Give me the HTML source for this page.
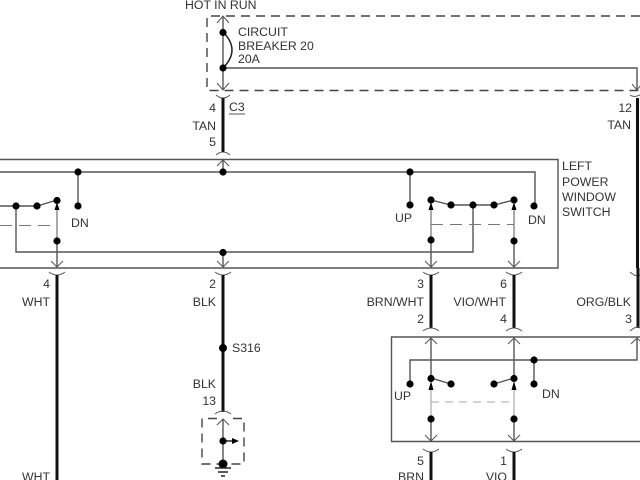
<!DOCTYPE html>
<html><head><meta charset="utf-8"><style>
html,body{margin:0;padding:0;background:#fff;width:640px;height:480px;overflow:hidden}
svg{display:block;filter:blur(.35px)}
text{font-family:"Liberation Sans",sans-serif;font-size:12.3px;fill:#333}
.r{text-anchor:end}
.t{stroke:#555;stroke-width:1.4;fill:none}
.k{stroke:#222;stroke-width:1.5;fill:none}
.w{stroke:#111;stroke-width:3;fill:none}
.a{stroke:#555;stroke-width:1;fill:none}
.d{stroke:#777;stroke-width:1;fill:none;stroke-dasharray:12 7}
.b{stroke:#444;stroke-width:1.4;fill:none;stroke-dasharray:9 6}
.g{stroke:#aaa;stroke-width:1;fill:none;stroke-dasharray:8 6}
circle{fill:#000}
</style></head><body>
<svg width="640" height="480" viewBox="0 0 640 480" xmlns="http://www.w3.org/2000/svg">
<!-- top fuse box -->
<path class="b" d="M640 16H207V90.5H640"/>
<path class="t" d="M223 17V90"/>
<path class="a" d="M217 23L223 16L229 23M217 83L223 90L229 83"/>
<path class="k" d="M223 32Q241 50 223 68"/>
<path class="t" d="M223 68H637V90"/>
<path class="a" d="M632 84L637 90L640 86"/>
<circle cx="223" cy="32.500" r="3.600"/><circle cx="223" cy="68" r="3.600"/>
<text x="185" y="9">HOT IN RUN</text>
<text x="238" y="36">CIRCUIT</text>
<text x="238" y="50">BREAKER 20</text>
<text x="238" y="63">20A</text>
<!-- C3 wire -->
<path class="a" d="M216 95Q223 101 230 95M216 155Q223 149 230 155"/>
<path class="w" d="M223 98V152"/>
<text class="r" x="216" y="112">4</text>
<text x="229" y="111">C3</text><path class="a" stroke-width="0.8" d="M229 114H245"/>
<text class="r" x="216" y="130">TAN</text>
<text class="r" x="216" y="146">5</text>
<!-- right wire -->
<path class="a" d="M630 95Q634 98 640 95"/>
<path class="w" d="M637.500 98V268"/>
<text class="r" x="632" y="112">12</text>
<text class="r" x="631" y="129">TAN</text>
<!-- left power window switch -->
<path class="t" d="M-2 159.500H558V268H-2"/>
<path class="a" d="M217 166L223 160L229 166"/>
<path class="t" d="M0 172H535V206M223 160V172M78 172V206M410 172V205"/>
<path class="t" d="M16 206V252H473V205M223 252V267M0 206H37L57 200M431 200L451 205H494L514 200"/>
<path class="t" d="M57 241V267M431 240V267M514 241V267" />
<path class="a" d="M57 205V241M431 205V240M514 205V241"/>
<path class="d" d="M0 225.500H57"/>
<path class="d" d="M431 224.500H514"/>
<path class="a" d="M51 261L57 267L63 261M217 261L223 267L229 261M425 261L431 267L437 261M508 261L514 267L520 261"/>
<path d="M54.500 210L57 202L59.500 210ZM428.500 210L431 202L433.500 210ZM511.500 210L514 202L516.500 210Z" fill="#000"/>
<g>
<circle cx="78" cy="172" r="3.600"/><circle cx="223" cy="172" r="3.600"/><circle cx="410" cy="172" r="3.600"/>
<circle cx="78" cy="206" r="3.600"/><circle cx="16" cy="206" r="3.600"/><circle cx="37" cy="206" r="3.600"/><circle cx="57" cy="200.500" r="3.600"/>
<circle cx="57" cy="241" r="3.600"/><circle cx="223" cy="252.500" r="3.600"/>
<circle cx="410" cy="205" r="3.600"/><circle cx="431" cy="200" r="3.600"/><circle cx="451" cy="205" r="3.600"/><circle cx="473" cy="205" r="3.600"/><circle cx="494" cy="205" r="3.600"/><circle cx="514" cy="200" r="3.600"/><circle cx="534" cy="206" r="3.600"/>
<circle cx="431" cy="240" r="3.600"/><circle cx="514" cy="241" r="3.600"/>
</g>
<text x="71" y="227">DN</text>
<text x="395" y="222">UP</text>
<text x="528" y="224">DN</text>
<text x="562" y="170">LEFT</text>
<text x="562" y="186">POWER</text>
<text x="562" y="201">WINDOW</text>
<text x="562" y="216">SWITCH</text>
<!-- connectors -->
<path class="a" d="M49 272Q57 278 65 272M215 272Q223 278 231 272M423 272Q431 278 439 272M506 272Q514 278 522 272M630 272Q637 278 640 275"/>
<path class="w" d="M57 275V480M223 275V412M431 275V328M514 275V328"/>
<path class="w" d="M638 268V328" stroke-width="4"/>
<path class="a" d="M423 331Q431 325 439 331M506 331Q514 325 522 331M630 331Q637 325 640 328"/>
<text class="r" x="50" y="288">4</text><text class="r" x="50" y="306">WHT</text>
<text class="r" x="216" y="288">2</text><text class="r" x="216" y="306">BLK</text>
<text class="r" x="424" y="288">3</text><text class="r" x="424" y="306">BRN/WHT</text><text class="r" x="424" y="323">2</text>
<text class="r" x="507" y="288">6</text><text class="r" x="506" y="306">VIO/WHT</text><text class="r" x="507" y="323">4</text>
<text class="r" x="631" y="306">ORG/BLK</text><text class="r" x="632" y="323">3</text>
<!-- S316 + ground -->
<circle cx="223" cy="348" r="4"/>
<text x="232" y="352">S316</text>
<text class="r" x="216" y="388">BLK</text>
<text class="r" x="216" y="405">13</text>
<path class="a" d="M215 414Q223 408 231 414"/>
<path class="b" d="M217 418.500H202V464H244V418.500H230"/>
<path class="t" d="M223 419V464"/>
<path class="a" d="M217 425L223 419L229 425"/>
<path class="k" d="M223 441H232"/>
<path d="M232 438L239 441L232 444Z" fill="#000"/>
<circle cx="223" cy="441" r="3.600"/>
<circle cx="223" cy="464" r="4.500"/>
<path class="k" d="M215 468H231M218 472H228M221 476H225"/>
<!-- bottom switch -->
<path class="t" d="M640 337H391.500V441.500H640"/>
<path class="t" d="M410 384V360H637V338M534 360V384"/>
<path class="t" d="M431 338V378L451 384M514 338V378L494 384M431 419V441M514 419V441"/>
<path stroke="#aaa" stroke-width="1.200" fill="none" d="M431 385V419M514 385V419"/>
<path class="a" d="M425 344L431 338L437 344M508 344L514 338L520 344M631 344L637 338L640 341"/>
<path class="a" d="M425 435L431 441L437 435M508 435L514 441L520 435"/>
<path d="M428.500 390L431 381L433.500 390ZM511.500 390L514 381L516.500 390Z" fill="#000"/>
<path class="g" d="M431 402H514"/>
<circle cx="534" cy="360" r="3.600"/><circle cx="410" cy="384" r="3.600"/><circle cx="431" cy="378.500" r="3.600"/><circle cx="451" cy="384" r="3.600"/><circle cx="494" cy="384" r="3.600"/><circle cx="514" cy="378.500" r="3.600"/><circle cx="534" cy="384" r="3.600"/><circle cx="431" cy="419" r="3.600"/><circle cx="514" cy="419" r="3.600"/>
<text x="394" y="400">UP</text>
<text x="542" y="398">DN</text>
<path class="a" d="M423 449Q431 455 439 449M506 449Q514 455 522 449"/>
<path class="w" d="M431 452V480M514 452V480"/>
<text class="r" x="424" y="465">5</text><text class="r" x="424" y="481">BRN</text>
<text class="r" x="507" y="465">1</text><text class="r" x="507" y="481">VIO</text>
<text class="r" x="50" y="481">WHT</text>
</svg>
</body></html>
